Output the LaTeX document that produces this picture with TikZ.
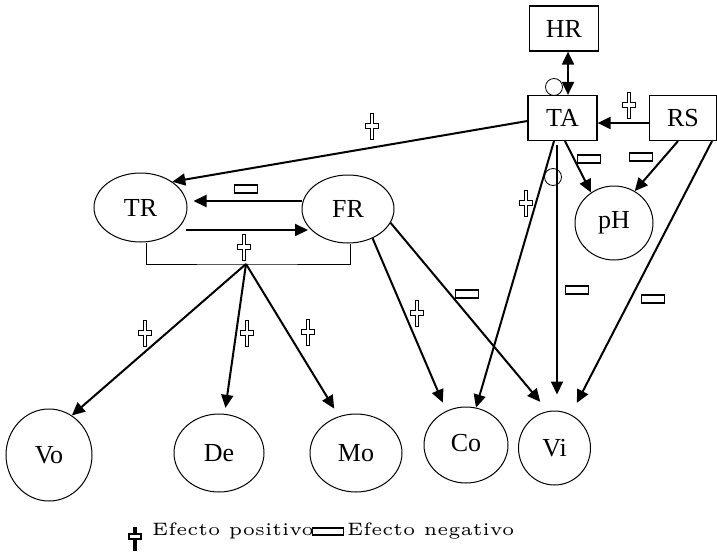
\documentclass[tikz,border=0pt]{standalone}
\usepackage{graphicx}
\usepackage{fontspec}
\usetikzlibrary{shapes.geometric, arrows.meta, positioning}
\newfontfamily\nodefont{Liberation Serif}
\newcommand{\legtxt}[1]{\scalebox{3.6}{\fontsize{5pt}{6pt}\selectfont #1}}
\tikzset{
  box/.style={draw, line width=1.2pt, minimum width=69pt, minimum height=45pt,
    inner sep=0pt, font=\nodefont\fontsize{26pt}{28pt}\selectfont},
  var/.style={draw, ellipse, line width=1pt, inner sep=0pt,
    font=\nodefont\fontsize{26pt}{28pt}\selectfont},
  arr/.style={-{Triangle[length=13pt,width=12pt]}, line width=2pt},
  dbl/.style={{Triangle[length=13pt,width=12pt]}-{Triangle[length=13pt,width=12pt]}, line width=2pt},
  ring/.style={draw, circle, line width=0.8pt, minimum size=17pt, inner sep=0pt},
  minusmark/.style={draw, fill=white, line width=1.2pt, minimum width=23pt,
    minimum height=8pt, inner sep=0pt},
  plusmark/.style={minimum width=16pt, minimum height=29pt, inner sep=0pt,
    path picture={\draw[line width=1pt, fill=white, shift={(path picture bounding box.center)}]
      (-1.3,-13) -- (1.3,-13) -- (1.3,-2.5) -- (6.5,-2.5) -- (6.5,2.5) -- (1.3,2.5)
      -- (1.3,13) -- (-1.3,13) -- (-1.3,2.5) -- (-6.5,2.5) -- (-6.5,-2.5) -- (-1.3,-2.5) -- cycle;}},
  plusleg/.style={minimum width=16pt, minimum height=28pt, inner sep=0pt,
    path picture={\begin{scope}[shift={(path picture bounding box.center)}]
      \fill (-1.6,-12) rectangle (1.6,12);
      \draw[line width=1.3pt, fill=white] (-6,-5) rectangle (6,0);
    \end{scope}}},
  legend/.style={inner sep=0pt, anchor=base west},
}
\begin{document}
\begin{tikzpicture}[x=1pt, y=-1pt]
  \useasboundingbox (0,0) rectangle (717,555);

  % boxes
  \node[box]                      (HR) at (564,28.5) {HR};
  \node[box]                      (TA) at (562.5,118) {TA};
  \node[box, minimum width=67pt]  (RS) at (683,118)   {RS};

  % ellipses
  \node[var, minimum width=93pt, minimum height=69pt] (TR) at (140.5,207.5) {TR};
  \node[var, minimum width=92pt, minimum height=68pt] (FR) at (348,209)     {FR};
  \node[var, minimum width=78pt, minimum height=74pt] (pH) at (614,223)     {pH};
  \node[var, minimum width=86pt, minimum height=92pt] (Vo) at (49,455)      {Vo};
  \node[var, minimum width=90pt, minimum height=78pt] (De) at (219,453)     {De};
  \node[var, minimum width=92pt, minimum height=78pt] (Mo) at (356,453)     {Mo};
  \node[var, minimum width=84pt, minimum height=76pt] (Co) at (466,445)     {\raisebox{4pt}{Co}};
  \node[var, minimum width=72pt, minimum height=74pt] (Vi) at (554.5,448)   {Vi};

  \node[ring] (c1) at (554,87)  {};
  \node[ring] (c2) at (553,177) {};
  \coordinate (brk) at (246,264);

  % connectors
  \draw[dbl] ([xshift=4]HR.south) -- ([xshift=5.5]TA.north);
  \draw[arr] ([yshift=-5]RS.west) -- ([yshift=-5]TA.east);
  \draw[arr] ([yshift=-3]TA.west) -- (TR.39);
  \draw[arr] ([yshift=8]FR.west) -- ([xshift=6,yshift=6.5]TR.east);
  \draw[arr] ([xshift=45.5,yshift=-22.5]TR.center) -- ([xshift=-40,yshift=-21]FR.center);
  \draw[line width=1pt] ([xshift=5.5]TR.south) |- (brk) -| ([xshift=2]FR.south);
  \draw[arr] (brk) -- (Vo.60);
  \draw[arr, shorten >=6pt] (brk) -- (De);
  \draw[arr, shorten >=9pt] (brk) -- (Mo.115);
  \draw[arr, shorten >=9pt] (FR.-50) -- (Co.120);
  \draw[arr, shorten >=12pt] (FR.-18) -- (Vi.100);
  \draw[arr] ([xshift=-8.5]TA.south) -- (Co.75);
  \draw[arr] ([xshift=-5.5,yshift=-4]TA.south) -- ([xshift=2.5,yshift=16]Vi.north);
  \draw[arr] ([xshift=2.5]TA.south) -- (pH.127);
  \draw[arr] ([xshift=-5]RS.south) -- (pH.57);
  \draw[arr, shorten >=13pt] ([xshift=29]RS.south) -- (Vi.64);

  % effect marks
  \node[plusmark] (p1) at (629,105) {};
  \node[plusmark] (p2) at (372,126) {};
  \node[plusmark] (p3) at (244,247) {};
  \node[plusmark] (p4) at (145,333) {};
  \node[plusmark] (p5) at (247,333) {};
  \node[plusmark] (p6) at (308,332) {};
  \node[plusmark] (p7) at (417,313) {};
  \node[plusmark] (p8) at (526,203) {};
  \node[minusmark] (m1) at (246,189) {};
  \node[minusmark] (m2) at (589,159) {};
  \node[minusmark] (m3) at (641,157) {};
  \node[minusmark] (m4) at (467,294) {};
  \node[minusmark] (m5) at (577,290) {};
  \node[minusmark] (m6) at (653,299) {};

  % legend
  \node[plusleg] (lp) at (135,539) {};
  \node[legend] (lpt) at (152,535) {\legtxt{Efecto positivo}};
  \node[minusmark, line width=1.6pt, minimum width=31pt, minimum height=7pt] (lm) at (328,531.5) {};
  \node[legend] (lmt) at (347,535) {\legtxt{Efecto negativo}};
\end{tikzpicture}
\end{document}
